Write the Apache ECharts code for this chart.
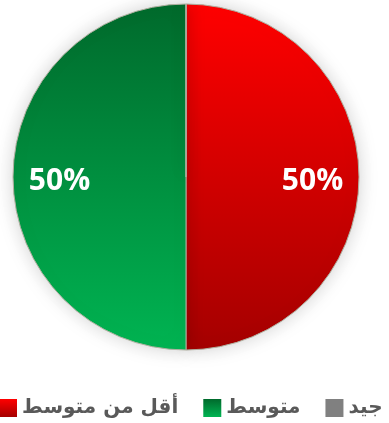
<!DOCTYPE html>
<html>
<head>
<meta charset="utf-8">
<script src="https://cdn.jsdelivr.net/npm/echarts@6/dist/echarts.min.js"></script>
<style>
  html, body { margin: 0; padding: 0; background: #ffffff; }
  #chart { width: 389px; height: 423px; }
</style>
</head>
<body>
<div id="chart"></div>
<script>
// Rating categories and their counts
const categories = ['أقل من متوسط', 'متوسط', 'جيد'];
const values = [1, 1, 0];
const legendOrder = ['أقل من متوسط', 'متوسط', 'جيد'];

const fills = [
  new echarts.graphic.LinearGradient(0, 0, 0, 1, [
    { offset: 0, color: '#ff0000' },
    { offset: 1, color: '#a40000' }
  ]),
  new echarts.graphic.LinearGradient(0, 0, 0, 1, [
    { offset: 0, color: '#006a2c' },
    { offset: 1, color: '#00b452' }
  ]),
  '#808080'
];
const labelOffsets = [[37, 4], [-37, 4], [0, 0]];

const chart = echarts.init(document.getElementById('chart'), null, { renderer: 'canvas' });

chart.setOption({
  animation: false,
  backgroundColor: '#ffffff',
  legend: {
    data: legendOrder.map(name => ({
      name,
      itemStyle: { borderWidth: 0, borderColor: 'rgba(0,0,0,0)', shadowBlur: 0, shadowColor: 'rgba(0,0,0,0)' }
    })),
    bottom: 0,
    left: -6,
    width: 440,
    itemWidth: 18,
    itemHeight: 18,
    itemGap: 25,
    icon: 'rect',
    textStyle: {
      fontFamily: 'DejaVu Sans',
      fontWeight: 'bold',
      fontSize: 20,
      color: '#595959',
      padding: [0, 0, 0, 0]
    }
  },
  series: [{
    type: 'pie',
    center: [186, 177],
    radius: 173,
    startAngle: 90,
    clockwise: true,
    avoidLabelOverlap: false,
    legendHoverLink: false,
    data: categories.map((name, i) => ({
      name,
      value: values[i],
      itemStyle: { color: fills[i] },
      label: { offset: labelOffsets[i] }
    })),
    itemStyle: {
      borderColor: '#b0b0a0',
      borderWidth: 1,
      shadowBlur: 18,
      shadowColor: 'rgba(0,0,0,0.18)'
    },
    label: {
      show: true,
      position: 'inside',
      color: '#ffffff',
      fontFamily: 'Open Sans',
      fontWeight: 'bold',
      fontSize: 30,
      formatter: p => p.value > 0 ? Math.round(p.percent) + '%' : ''
    },
    labelLine: { show: false }
  }]
});
</script>
</body>
</html>
